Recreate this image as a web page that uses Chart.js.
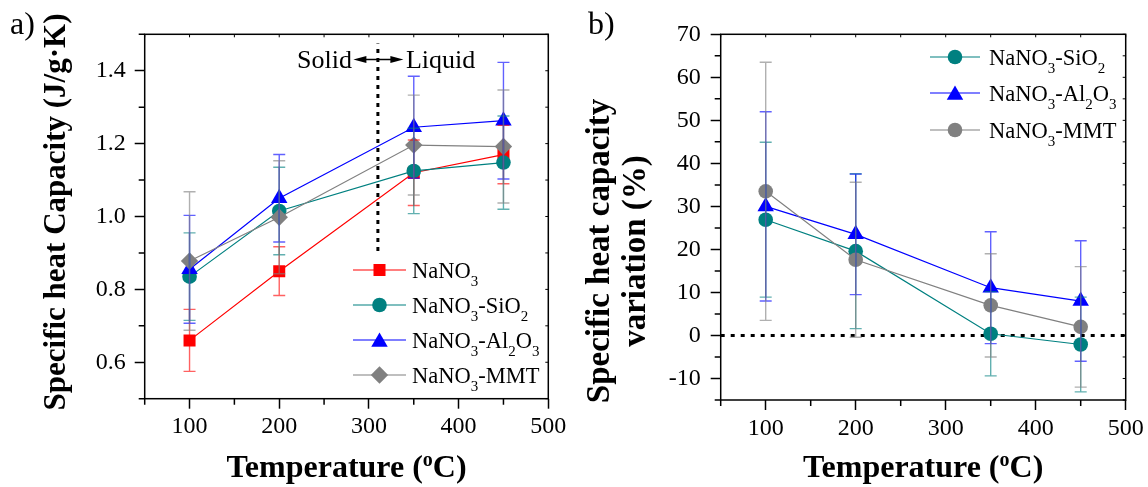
<!DOCTYPE html>
<html><head><meta charset="utf-8">
<script src="https://cdn.jsdelivr.net/npm/chart.js@4/dist/chart.umd.min.js"></script>
<style>
html,body{margin:0;padding:0;background:#fff;}
body{width:1148px;height:487px;overflow:hidden;position:relative;}
#ca{position:absolute;left:0;top:0;}
#cb{position:absolute;left:575px;top:0;}
</style></head><body>
<canvas id="ca" width="575" height="487"></canvas>
<canvas id="cb" width="573" height="487"></canvas>
<script>
// ---------- data ----------
const temperatures = [100, 200, 350, 450];
const seriesNamesA = ['NaNO3', 'NaNO3-SiO2', 'NaNO3-Al2O3', 'NaNO3-MMT'];
const cpNaNO3 = [0.66, 0.85, 1.12, 1.17];
const cpNaNO3Err = [0.085, 0.067, 0.09, 0.08];
const cpSiO2 = [0.835, 1.015, 1.125, 1.148];
const cpSiO2Err = [0.12, 0.12, 0.117, 0.128];
const cpAl2O3 = [0.855, 1.05, 1.245, 1.263];
const cpAl2O3Err = [0.148, 0.12, 0.14, 0.16];
const cpMMT = [0.878, 0.998, 1.196, 1.192];
const cpMMTErr = [0.19, 0.155, 0.137, 0.155];

const seriesNamesB = ['NaNO3-SiO2', 'NaNO3-Al2O3', 'NaNO3-MMT'];
const varSiO2 = [26.9, 19.6, 0.4, -2.1];
const varSiO2Err = [18, 18, 9.8, 11];
const varAl2O3 = [30.0, 23.5, 11.1, 8.0];
const varAl2O3Err = [22, 14, 13, 14];
const varMMT = [33.5, 17.6, 7.0, 2.0];
const varMMTErr = [30, 18, 12, 14];

const phaseChangeT = 310;
const phaseLineCp = [0.905, 1.475];
const zeroLineT = [50, 500];
const zeroLineVar = [0, 0];

const xMajor = [100, 200, 300, 400, 500];
const xMinor = [50, 150, 250, 350, 450];
const yMajorA = [0.6, 0.8, 1.0, 1.2, 1.4];
const yMinorA = [0.5, 0.7, 0.9, 1.1, 1.3, 1.5];
const yMajorB = [-10, 0, 10, 20, 30, 40, 50, 60, 70];
const yMinorB = [-15, -5, 5, 15, 25, 35, 45, 55, 65];

// ---------- helpers ----------
const SERIF = '"Liberation Serif", "Times New Roman", serif';
const pts = (ys) => temperatures.map((t, i) => ({x: t, y: ys[i]}));

function drawMarker(ctx, style, x, y, r, color) {
  ctx.save();
  ctx.fillStyle = color;
  ctx.beginPath();
  if (style === 'circle') ctx.arc(x, y, r, 0, Math.PI * 2);
  else if (style === 'rect') { const s = Math.SQRT1_2 * r; ctx.rect(x - s, y - s, 2 * s, 2 * s); }
  else if (style === 'rectRot') { ctx.moveTo(x, y - r); ctx.lineTo(x + r, y); ctx.lineTo(x, y + r); ctx.lineTo(x - r, y); ctx.closePath(); }
  else if (style === 'triangle') {
    ctx.moveTo(x, y - r);
    ctx.lineTo(x + r * Math.sin(2 * Math.PI / 3), y - r * Math.cos(2 * Math.PI / 3));
    ctx.lineTo(x + r * Math.sin(4 * Math.PI / 3), y - r * Math.cos(4 * Math.PI / 3));
    ctx.closePath();
  }
  ctx.fill();
  ctx.restore();
}

// text with digits as subscripts (chemical formulas)
function drawChem(ctx, text, x, y, size) {
  const parts = text.match(/(\d+|[^\d]+)/g);
  let cx = x;
  ctx.textAlign = 'left';
  ctx.textBaseline = 'alphabetic';
  for (const p of parts) {
    if (/^\d+$/.test(p)) {
      ctx.font = Math.round(size * 0.66) + 'px ' + SERIF;
      ctx.fillText(p, cx, y + size * 0.34);
      cx += ctx.measureText(p).width;
    } else {
      ctx.font = size + 'px ' + SERIF;
      ctx.fillText(p, cx, y);
      cx += ctx.measureText(p).width;
    }
  }
}

function ds(label, ys, errs, color, style, r, order) {
  return {
    label, data: pts(ys), errors: errs,
    borderColor: color, backgroundColor: color, borderWidth: 1.2,
    pointStyle: style, pointRadius: r, pointBorderWidth: 0,
    pointBackgroundColor: color, errorColor: color, order, tension: 0
  };
}

const errorBarPlugin = {
  id: 'errorBars',
  afterDatasetsDraw(chart) {
    const {ctx, scales: {x, y}} = chart;
    ctx.save();
    ctx.globalAlpha = 0.62;
    ctx.lineWidth = 1.4;
    chart.data.datasets.forEach((d) => {
      if (!d.errors) return;
      ctx.strokeStyle = d.errorColor;
      d.data.forEach((p, j) => {
        const px = x.getPixelForValue(p.x);
        const yt = y.getPixelForValue(p.y + d.errors[j]);
        const yb = y.getPixelForValue(p.y - d.errors[j]);
        ctx.beginPath();
        ctx.moveTo(px, yt); ctx.lineTo(px, yb);
        ctx.moveTo(px - 6, yt); ctx.lineTo(px + 6, yt);
        ctx.moveTo(px - 6, yb); ctx.lineTo(px + 6, yb);
        ctx.stroke();
      });
    });
    ctx.restore();
  }
};

function framePlugin(cfg) {
  return {
    id: 'frame',
    afterDraw(chart) {
      const {ctx, chartArea: a, scales: {x, y}} = chart;
      ctx.save();
      ctx.strokeStyle = '#000';
      ctx.lineWidth = 1.5;
      ctx.strokeRect(a.left, a.top, a.right - a.left, a.bottom - a.top);
      ctx.beginPath();
      // minor outward ticks
      cfg.xMinor.forEach(v => { const px = x.getPixelForValue(v); ctx.moveTo(px, a.bottom); ctx.lineTo(px, a.bottom + 6); });
      cfg.yMinor.forEach(v => { const py = y.getPixelForValue(v); ctx.moveTo(a.left, py); ctx.lineTo(a.left - 6, py); });
      ctx.stroke();
      // mirrored small inward ticks
      ctx.lineWidth = 1;
      ctx.beginPath();
      cfg.xMajor.concat(cfg.xMinor).forEach(v => { const px = x.getPixelForValue(v); ctx.moveTo(px, a.top); ctx.lineTo(px, a.top + 3); });
      cfg.yMajor.concat(cfg.yMinor).forEach(v => { const py = y.getPixelForValue(v); ctx.moveTo(a.right, py); ctx.lineTo(a.right - 3, py); });
      ctx.stroke();

      ctx.fillStyle = '#000';
      // panel letter
      ctx.font = '32px ' + SERIF;
      ctx.textAlign = 'left'; ctx.textBaseline = 'alphabetic';
      ctx.fillText(cfg.letter, cfg.letterX, 34);

      // x title with superscript o
      const xc = (a.left + a.right) / 2;
      const t1 = 'Temperature (', t2 = 'o', t3 = 'C)';
      ctx.font = 'bold 32px ' + SERIF;
      const w1 = ctx.measureText(t1).width, w3 = ctx.measureText(t3).width;
      ctx.font = 'bold 20px ' + SERIF;
      const w2 = ctx.measureText(t2).width;
      let sx = xc - (w1 + w2 + w3) / 2;
      ctx.font = 'bold 32px ' + SERIF;
      ctx.fillText(t1, sx, 477); sx += w1;
      ctx.font = 'bold 20px ' + SERIF;
      ctx.fillText(t2, sx, 466); sx += w2;
      ctx.font = 'bold 32px ' + SERIF;
      ctx.fillText(t3, sx, 477);

      // y title (rotated)
      ctx.save();
      ctx.font = 'bold ' + cfg.yTitleSize + 'px ' + SERIF;
      ctx.textAlign = 'center'; ctx.textBaseline = 'middle';
      cfg.yTitle.forEach((line, i) => {
        ctx.save();
        ctx.translate(cfg.yTitleX[i], cfg.yTitleY);
        ctx.rotate(-Math.PI / 2);
        ctx.fillText(line, 0, 0);
        ctx.restore();
      });
      ctx.restore();

      // legend
      cfg.legend.forEach((e, i) => {
        const yy = cfg.legendY[i];
        ctx.save();
        ctx.strokeStyle = e.color; ctx.lineWidth = 1.2;
        ctx.beginPath(); ctx.moveTo(cfg.legendX0, yy); ctx.lineTo(cfg.legendX1, yy); ctx.stroke();
        ctx.restore();
        drawMarker(ctx, e.style, (cfg.legendX0 + cfg.legendX1) / 2, yy + (e.style === 'triangle' ? 2 : 0), e.r, e.color);
        ctx.fillStyle = '#000';
        drawChem(ctx, e.label, cfg.legendTX, yy + 8, 22.5);
      });

      if (cfg.extra) cfg.extra(chart);
      ctx.restore();
    }
  };
}

function baseOptions(cfg) {
  return {
    responsive: false, animation: false, events: [],
    layout: {padding: {left: 0, right: cfg.padRight, top: cfg.padTop, bottom: 0}},
    plugins: {legend: {display: false}, tooltip: {enabled: false}, title: {display: false}},
    scales: {
      x: {
        type: 'linear', min: 50, max: 500,
        afterBuildTicks: s => { s.ticks = cfg.xMajor.map(v => ({value: v})); },
        afterFit: s => { s.height = cfg.xHeight; s.paddingLeft = 0; s.paddingRight = 0; },
        grid: {display: true, drawOnChartArea: false, drawTicks: true, tickLength: 10, tickWidth: 1.5, tickColor: '#000'},
        border: {display: false},
        ticks: {color: '#000', font: {family: SERIF, size: 24}, padding: 4, maxRotation: 0, autoSkip: false,
                callback: v => String(v)}
      },
      y: {
        type: 'linear', min: cfg.yMin, max: cfg.yMax,
        afterBuildTicks: s => { s.ticks = cfg.yMajor.map(v => ({value: v})); },
        afterFit: s => { s.width = cfg.yWidth; s.paddingTop = 0; s.paddingBottom = 0; },
        grid: {display: true, drawOnChartArea: false, drawTicks: true, tickLength: 10, tickWidth: 1.5, tickColor: '#000'},
        border: {display: false},
        ticks: {color: '#000', font: {family: SERIF, size: 24}, padding: cfg.yPad, autoSkip: false,
                callback: cfg.yFmt}
      }
    }
  };
}

// ---------- panel a ----------
const colRed = '#ff0000', colTeal = '#008080', colBlue = '#0000ff', colGray = '#808080';

const cfgA = {
  padRight: 26.7, padTop: 34.3, xHeight: 88.3, yWidth: 144.7, yPad: 9,
  yMin: 0.5, yMax: 1.5, xMajor, xMinor, yMajor: yMajorA, yMinor: yMinorA,
  yFmt: v => Number(v).toFixed(1),
  letter: 'a)', letterX: 10,
  yTitle: ['Specific heat Capacity (J/g\u00B7K)'], yTitleX: [57], yTitleY: 212, yTitleSize: 31,
  legendX0: 353, legendX1: 406, legendTX: 412, legendY: [270, 305, 340, 375],
  legend: [
    {label: seriesNamesA[0], color: colRed, style: 'rect', r: 8.5},
    {label: seriesNamesA[1], color: colTeal, style: 'circle', r: 7.3},
    {label: seriesNamesA[2], color: colBlue, style: 'triangle', r: 9.5},
    {label: seriesNamesA[3], color: colGray, style: 'rectRot', r: 8.7}
  ],
  extra(chart) {
    const {ctx, scales: {x}} = chart;
    const cx = x.getPixelForValue(phaseChangeT);
    const ay = 59.5;
    ctx.fillStyle = '#000';
    ctx.font = '26px ' + SERIF;
    ctx.textBaseline = 'alphabetic';
    ctx.textAlign = 'right';
    ctx.fillText('Solid', cx - 26, 67.5);
    ctx.textAlign = 'left';
    ctx.fillText('Liquid', cx + 28, 67.5);
    ctx.strokeStyle = '#000'; ctx.lineWidth = 1.5;
    const l = cx - 24.5, r = cx + 25.5;
    ctx.beginPath(); ctx.moveTo(l + 8, ay); ctx.lineTo(r - 8, ay); ctx.stroke();
    ctx.beginPath(); ctx.moveTo(l, ay); ctx.lineTo(l + 13, ay - 3.5); ctx.lineTo(l + 13, ay + 3.5); ctx.closePath(); ctx.fill();
    ctx.beginPath(); ctx.moveTo(r, ay); ctx.lineTo(r - 13, ay - 3.5); ctx.lineTo(r - 13, ay + 3.5); ctx.closePath(); ctx.fill();
  }
};

new Chart(document.getElementById('ca'), {
  type: 'line',
  data: {
    datasets: [
      {label: 'phase change', data: phaseLineCp.map(v => ({x: phaseChangeT, y: v})),
       borderColor: '#000', borderWidth: 3, borderDash: [4, 5], pointRadius: 0, order: 5},
      ds(seriesNamesA[0], cpNaNO3, cpNaNO3Err, colRed, 'rect', 8.5, 4),
      ds(seriesNamesA[1], cpSiO2, cpSiO2Err, colTeal, 'circle', 7.3, 3),
      ds(seriesNamesA[2], cpAl2O3, cpAl2O3Err, colBlue, 'triangle', 9.5, 2),
      ds(seriesNamesA[3], cpMMT, cpMMTErr, colGray, 'rectRot', 8.7, 1)
    ]
  },
  options: baseOptions(cfgA),
  plugins: [errorBarPlugin, framePlugin(cfgA)]
});

// ---------- panel b ----------
const cfgB = {
  padRight: 22.3, padTop: 34.3, xHeight: 87, yWidth: 145.7, yPad: 10,
  yMin: -15, yMax: 70, xMajor, xMinor, yMajor: yMajorB, yMinor: yMinorB,
  yFmt: v => String(v),
  letter: 'b)', letterX: 13,
  yTitle: ['Specific heat capacity', 'variation (%)'], yTitleX: [25, 61], yTitleY: 251, yTitleSize: 33,
  legendX0: 355, legendX1: 405, legendTX: 414, legendY: [57, 93, 130],
  legend: [
    {label: seriesNamesB[0], color: colTeal, style: 'circle', r: 7.3},
    {label: seriesNamesB[1], color: colBlue, style: 'triangle', r: 9.5},
    {label: seriesNamesB[2], color: colGray, style: 'circle', r: 7.3}
  ]
};

new Chart(document.getElementById('cb'), {
  type: 'line',
  data: {
    datasets: [
      {label: 'zero', data: zeroLineT.map((t, i) => ({x: t, y: zeroLineVar[i]})),
       borderColor: '#000', borderWidth: 3, borderDash: [4, 6], pointRadius: 0, order: 5},
      ds(seriesNamesB[0], varSiO2, varSiO2Err, colTeal, 'circle', 7.3, 3),
      ds(seriesNamesB[1], varAl2O3, varAl2O3Err, colBlue, 'triangle', 9.5, 2),
      ds(seriesNamesB[2], varMMT, varMMTErr, colGray, 'circle', 7.3, 1)
    ]
  },
  options: baseOptions(cfgB),
  plugins: [errorBarPlugin, framePlugin(cfgB)]
});
</script>
</body></html>
